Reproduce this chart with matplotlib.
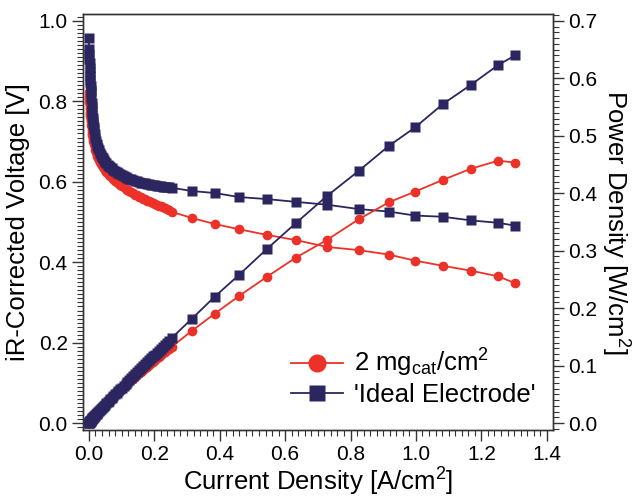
import numpy as np
import matplotlib
matplotlib.use("Agg")
import matplotlib.pyplot as plt
from matplotlib.lines import Line2D
from matplotlib.ticker import MultipleLocator

plt.rcParams['font.family'] = ['Liberation Sans', 'DejaVu Sans']
plt.rcParams['mathtext.fontset'] = 'custom'
plt.rcParams['mathtext.rm'] = 'Liberation Sans'
plt.rcParams['mathtext.it'] = 'Liberation Sans:italic'

# current density [A/cm2], shared by both electrodes
current = [0.000, 0.0005, 0.001, 0.0015, 0.002, 0.0025, 0.003, 0.0035, 0.004, 0.0045,
           0.005, 0.0055, 0.006, 0.007, 0.008, 0.009, 0.010, 0.011, 0.012, 0.013,
           0.014, 0.015, 0.016, 0.018, 0.020, 0.022, 0.024, 0.026, 0.028, 0.030,
           0.033, 0.036, 0.039, 0.042, 0.045, 0.049, 0.053, 0.057, 0.061, 0.065,
           0.070, 0.075, 0.080, 0.085, 0.090, 0.095, 0.100, 0.106, 0.112, 0.118,
           0.124, 0.130, 0.136, 0.142, 0.148, 0.154, 0.160, 0.166, 0.172, 0.178,
           0.184, 0.190, 0.196, 0.202, 0.208, 0.214, 0.220, 0.226, 0.232, 0.238,
           0.244, 0.254,
           0.315, 0.385, 0.459, 0.544, 0.633, 0.728, 0.826, 0.917, 0.997, 1.083,
           1.168, 1.251, 1.303]

# iR-corrected voltage [V]
v_2mg = [0.823, 0.814, 0.806, 0.799, 0.792, 0.786, 0.780, 0.774, 0.769, 0.764,
         0.759, 0.754, 0.750, 0.742, 0.735, 0.728, 0.722, 0.716, 0.711, 0.706,
         0.701, 0.697, 0.693, 0.686, 0.679, 0.673, 0.668, 0.663, 0.659, 0.655,
         0.650, 0.645, 0.641, 0.637, 0.633, 0.629, 0.625, 0.621, 0.618, 0.615,
         0.611, 0.607, 0.603, 0.600, 0.596, 0.593, 0.590, 0.586, 0.583, 0.580,
         0.577, 0.574, 0.571, 0.568, 0.566, 0.563, 0.561, 0.558, 0.556, 0.553,
         0.551, 0.549, 0.547, 0.545, 0.543, 0.541, 0.539, 0.537, 0.535, 0.532,
         0.530, 0.525,
         0.510, 0.495, 0.482, 0.468, 0.455, 0.438, 0.430, 0.419, 0.404, 0.391,
         0.379, 0.365, 0.348]

v_ideal = [0.957, 0.930, 0.918, 0.906, 0.895, 0.884, 0.873, 0.863, 0.854, 0.845,
           0.837, 0.829, 0.822, 0.809, 0.797, 0.786, 0.776, 0.767, 0.758, 0.750,
           0.743, 0.736, 0.730, 0.719, 0.709, 0.701, 0.694, 0.688, 0.683, 0.678,
           0.672, 0.667, 0.662, 0.658, 0.654, 0.650, 0.646, 0.642, 0.639, 0.636,
           0.633, 0.630, 0.627, 0.624, 0.621, 0.619, 0.617, 0.614, 0.612, 0.610,
           0.608, 0.606, 0.604, 0.602, 0.601, 0.600, 0.598, 0.597, 0.596, 0.595,
           0.594, 0.593, 0.592, 0.591, 0.590, 0.589, 0.589, 0.588, 0.587, 0.587,
           0.586, 0.585,
           0.577, 0.572, 0.562, 0.557, 0.550, 0.543, 0.532, 0.526, 0.516, 0.513,
           0.504, 0.498, 0.491]

labels = ['2 mg$_{\\mathrm{cat}}$/cm$^2$', "'Ideal Electrode'"]
red = '#EC3228'
navy = '#2B2660'

i = np.array(current)
p_2mg = i * np.array(v_2mg)      # power density [W/cm2]
p_ideal = i * np.array(v_ideal)

fig = plt.figure(figsize=(6.43, 5.0), dpi=100)
ax = fig.add_axes([83 / 643, 70 / 500, 470 / 643, 416 / 500])
ax2 = ax.twinx()

kw = dict(lw=1.3, ms=7, mec='none')
ax.plot(i, v_2mg, '-o', color=red, **kw)
ax2.plot(i, p_2mg, '-o', color=red, **kw)
ax.plot(i, v_ideal, '-s', color=navy, **kw, zorder=3)
ax2.plot(i, p_ideal, '-s', color=navy, **kw, zorder=3)

ax.set_xlim(-0.018, 1.419)
ax.set_ylim(-0.017, 1.017)
ax2.set_ylim(-0.017 * 0.7, 1.017 * 0.7)

ax.xaxis.set_major_locator(MultipleLocator(0.2))
ax.xaxis.set_minor_locator(MultipleLocator(0.02))
ax.yaxis.set_major_locator(MultipleLocator(0.2))
ax.yaxis.set_minor_locator(MultipleLocator(0.01))
ax2.yaxis.set_major_locator(MultipleLocator(0.1))
ax2.yaxis.set_minor_locator(MultipleLocator(0.01))

for a in (ax, ax2):
    a.tick_params(which='major', direction='out', length=8, width=1, labelsize=15,
                  color='#333333', pad=3)
    a.tick_params(which='minor', direction='out', length=4, width=0.8, color='#333333')
    for s in a.spines.values():
        s.set_color('#333333')
        s.set_linewidth(1)
ax.tick_params(top=False, right=False, which='both')
ax2.tick_params(left=False, which='both')

ax.set_xlabel('Current Density [A/cm$^2$]', fontsize=18.5, labelpad=1)
ax.set_ylabel('iR-Corrected Voltage [V]', fontsize=18.5, labelpad=6)
ax2.set_ylabel('Power Density [W/cm$^2$]', fontsize=18.5, rotation=270, labelpad=24)

handles = [Line2D([], [], color=red, lw=1.3, marker='o', ms=13, mec='none'),
           Line2D([], [], color=navy, lw=1.3, marker='s', ms=11, mec='none')]
ax.legend(handles, labels, loc='lower right', bbox_to_anchor=(0.985, 0.03),
          frameon=False, fontsize=18.5, handlelength=2.0, handletextpad=0.45,
          labelspacing=0.15, borderaxespad=0)

fig.savefig('out.png', dpi=100)
